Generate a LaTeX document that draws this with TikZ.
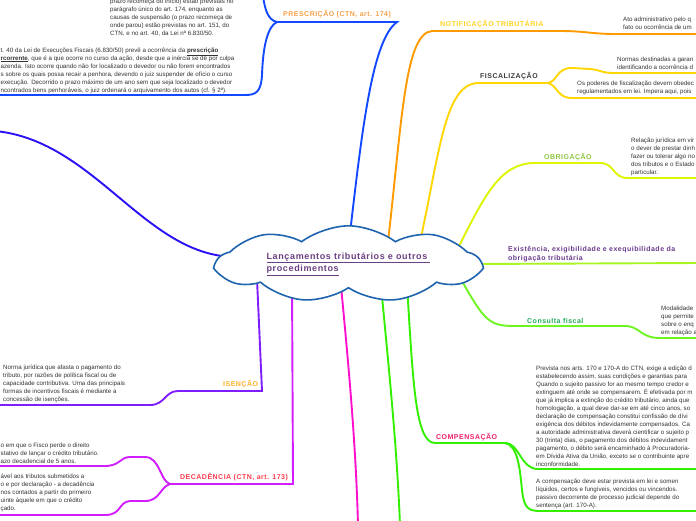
\documentclass[tikz,border=0pt]{standalone}
\usepackage{fontspec}
\setmainfont{Liberation Sans}
\newfontfamily\tagfont{Liberation Sans}[LetterSpace=7.0]
\usetikzlibrary{shapes.symbols}

\definecolor{notegray}{HTML}{333333}
\definecolor{cloudblue}{HTML}{1E63AE}
\definecolor{hubpurple}{HTML}{6B3F82}
\definecolor{prescblue}{HTML}{1248FF}
\definecolor{leftblue}{HTML}{2A10F5}
\definecolor{notiforange}{HTML}{FF9A00}
\definecolor{fiscyellow}{HTML}{FFD600}
\definecolor{obrigyellow}{HTML}{DDF500}
\definecolor{existlime}{HTML}{A8F522}
\definecolor{conslime}{HTML}{6CF522}
\definecolor{compgreen}{HTML}{33F000}
\definecolor{magline}{HTML}{FF10CC}
\definecolor{decviolet}{HTML}{D21EFF}
\definecolor{isenviolet}{HTML}{7E1EFF}
\definecolor{presctag}{HTML}{F5A04A}
\definecolor{notiftag}{HTML}{FFD21F}
\definecolor{fisctag}{HTML}{3C3C3C}
\definecolor{obrigtag}{HTML}{8DC63F}
\definecolor{existtag}{HTML}{6A3A8C}
\definecolor{constag}{HTML}{1EAA55}
\definecolor{comptag}{HTML}{EC1F6A}
\definecolor{isentag}{HTML}{FFB027}
\definecolor{dectag}{HTML}{FF3B4B}

\newcommand\notefont{\fontsize{6.2}{8}\selectfont}

\begin{document}
\begin{tikzpicture}[x=1pt,y=-1pt,
  branch/.style={line width=1.9pt,line cap=round},
  note/.style={font=\notefont,text=notegray,align=left,anchor=north west,inner sep=0pt},
  tag/.style={font=\tagfont\bfseries\fontsize{7}{9.3}\selectfont,anchor=base west,inner sep=0pt},
  hub/.style={cloud,cloud puffs=9,cloud puff arc=75,aspect=4.4,draw=cloudblue,line width=1.6pt,
    fill=white,minimum width=263pt,minimum height=60pt,inner sep=0pt,align=left,text=hubpurple,
    font=\tagfont\bfseries\fontsize{9}{12.3}\selectfont}]
\useasboundingbox (0,0) rectangle (696,520);
\clip (0,0) rectangle (696,520);

% junctions of the branches
\coordinate (c-left) at (222,256);
\coordinate (c-presc) at (349,242);
\coordinate (c-notif) at (388,242);
\coordinate (c-fisc) at (420,242);
\coordinate (c-obrig) at (458,248);
\coordinate (c-exist) at (472,264);
\coordinate (c-cons) at (462,281);
\coordinate (c-comp) at (407,285);
\coordinate (c-grn) at (381,286);
\coordinate (c-mag) at (341,286);
\coordinate (c-dec) at (292,281);
\coordinate (c-isen) at (257,279);
\coordinate (presc-r) at (397,22);
\coordinate (presc-l) at (277,22);
\coordinate (fisc-j) at (548,83);
\coordinate (comp-j) at (505,443);
\coordinate (dec-c) at (293,484);
\coordinate (dec-j) at (170,484);
\coordinate (isen-c) at (262,391);

% branches
\draw[branch,leftblue] (c-left) .. controls (140,245) and (90,140) .. (-5,131);
\draw[branch,prescblue] (c-presc) .. controls (362,130) and (372,40) .. (presc-r) -- (presc-l);
\draw[branch,prescblue] (presc-l) .. controls (268,20) and (265,10) .. (263,-4);
\draw[branch,prescblue] (presc-l) .. controls (268,26) and (263,45) .. (262,75)
  .. controls (261,92) and (256,95) .. (245,95) -- (-5,95);
\draw[branch,notiforange] (c-notif) .. controls (402,120) and (405,33) .. (432,31) -- (560,31)
  .. controls (585,31) and (592,34) .. (615,34) -- (700,34);
\draw[branch,fiscyellow] (c-fisc) .. controls (440,150) and (445,84) .. (478,83) -- (fisc-j);
\draw[branch,fiscyellow] (fisc-j) .. controls (558,81) and (556,68) .. (572,68) -- (590,69)
  .. controls (602,70) and (600,73) .. (615,73) -- (700,73);
\draw[branch,fiscyellow] (fisc-j) .. controls (558,86) and (557,98) .. (572,98) -- (700,98);
\draw[branch,obrigyellow] (c-obrig) .. controls (485,195) and (500,163) .. (535,163) -- (600,163)
  .. controls (615,163) and (612,178) .. (628,178) -- (700,178);
\draw[branch,existlime] (c-exist) -- (700,263);
\draw[branch,conslime] (c-cons) .. controls (485,322) and (490,326) .. (515,326) -- (625,326)
  .. controls (640,326) and (640,338) .. (660,338) -- (700,338);
\draw[branch,compgreen] (c-comp) .. controls (413,380) and (415,443) .. (435,443) -- (comp-j);
\draw[branch,compgreen] (comp-j) .. controls (520,443) and (520,469) .. (538,469) -- (700,469);
\draw[branch,compgreen] (comp-j) .. controls (518,445) and (520,470) .. (522,490)
  .. controls (524,508) and (528,511) .. (540,511) -- (700,511);
\draw[branch,compgreen] (c-grn) .. controls (390,380) and (397,450) .. (400,525);
\draw[branch,magline] (c-mag) .. controls (350,380) and (356,450) .. (358,525);
\draw[branch,decviolet] (c-dec) -- (dec-c) -- (dec-j);
\draw[branch,decviolet] (dec-j) .. controls (160,481) and (160,457) .. (145,457) -- (130,457)
  .. controls (120,457) and (120,466) .. (105,466) -- (-5,466);
\draw[branch,decviolet] (dec-j) .. controls (160,487) and (160,501) .. (145,501) -- (130,501)
  .. controls (118,502) and (122,515) .. (105,515) -- (-5,515);
\draw[branch,isenviolet] (c-isen) -- (isen-c) -- (178,391)
  .. controls (165,391) and (165,405) .. (150,405) -- (-5,405);

% central topic
\node[hub] (hub) at (348.5,264) {\underline{Lançamentos tributários e outros\ }\\\underline{procedimentos}};

% topic labels
\node[tag,text=presctag] (presc) at (283,16.7) {PRESCRIÇÃO (CTN, art. 174)};
\node[tag,text=notiftag] (notif) at (440,26) {NOTIFICAÇÃO TRIBUTÁRIA};
\node[tag,text=fisctag] (fisc) at (480,78.3) {FISCALIZAÇÃO};
\node[tag,text=obrigtag] (obrig) at (544,159) {OBRIGAÇÃO};
\node[tag,text=existtag,anchor=north west,align=left] (exist) at (508,244.5)
  {\strut Existência, exigibilidade e exequibilidade da\\obrigação tributária};
\node[tag,text=constag] (cons) at (527,323) {Consulta fiscal};
\node[tag,text=comptag] (comp) at (436,439) {COMPENSAÇÃO};
\node[tag,text=isentag] (isen) at (223,386) {ISENÇÃO};
\node[tag,text=dectag] (dec) at (180,479) {DECADÊNCIA (CTN, art. 173)};

% notes
\node[note] (presc-a) at (110,-1.9) {\strut prazo recomeça do início) estão previstas no\\
  parágrafo único do art. 174, enquanto as\\
  causas de suspensão (o prazo recomeça de\\
  onde parou) estão previstas no art. 151, do\\
  CTN, e no art. 40, da Lei nº 6.830/50.};
\node[note] (presc-b) at (0.5,46.4) {\strut t. 40 da Lei de Execuções Fiscais (6.830/50) prevê a ocorrência da \underline{\textbf{prescrição}}\\
  \underline{\textbf{rcorrente}}, que é a que ocorre no curso da ação, desde que a inércia se dê por culpa\\
  azenda. Isto ocorre quando não for localizado o devedor ou não forem encontrados\\
  s sobre os quais possa recair a penhora, devendo o juiz suspender de ofício o curso\\
  execução. Decorrido o prazo máximo de um ano sem que seja localizado o devedor\\
  ncontrados bens penhoráveis, o juiz ordenará o arquivamento dos autos (cf. § 2º).};
\node[note] (notif-a) at (623,15.4) {\strut Ato administrativo pelo q\\fato ou ocorrência de um};
\node[note] (fisc-a) at (617,55.4) {\strut Normas destinadas a garan\\identificando a ocorrência d};
\node[note] (fisc-b) at (577,79.4) {\strut Os poderes de fiscalização devem obedec\\regulamentados em lei. Impera aqui, pois};
\node[note] (obrig-a) at (631,136.4) {\strut Relação jurídica em vir\\o dever de prestar dinh\\fazer ou tolerar algo no\\dos tributos e o Estado\\particular.};
\node[note] (cons-a) at (661,304.4) {\strut Modalidade\\que permite\\sobre o enq\\em relação a};
\node[note] (comp-a) at (536,364.4) {\strut Prevista nos arts. 170 e 170-A do CTN, exige a edição d\\
  estabelecendo assim, suas condições e garantias para\\
  Quando o sujeito passivo for ao mesmo tempo credor e\\
  extinguem até onde se compensarem. É efetivada por m\\
  que já implica a extinção do crédito tributário, ainda que\\
  homologação, a qual deve dar-se em até cinco anos, so\\
  declaração de compensação constitui confissão de dívi\\
  exigência dos débitos indevidamente compensados. Ca\\
  a autoridade administrativa deverá cientificar o sujeito p\\
  30 (trinta) dias, o pagamento dos débitos indevidament\\
  pagamento, o débito será encaminhado à Procuradoria-\\
  em Dívida Ativa da União, exceto se o contribuinte apre\\
  inconformidade.};
\node[note] (comp-b) at (536,477.4) {\strut A compensação deve estar prevista em lei e somen\\
  líquidos, certos e fungíveis, vencidos ou vincendos.\\
  passivo decorrente de processo judicial depende do\\
  sentença (art. 170-A).};
\node[note] (isen-a) at (3,363.4) {\strut Norma jurídica que afasta o pagamento do\\
  tributo, por razões de política fiscal ou de\\
  capacidade contributiva. Uma das principais\\
  formas de incentivos fiscais é mediante a\\
  concessão de isenções.};
\node[note] (dec-a) at (0.5,441.4) {\strut o em que o Fisco perde o direito\\
  stativo de lançar o crédito tributário.\\
  azo decadencial de 5 anos.};
\node[note] (dec-b) at (0.5,472.4) {\strut ável aos tributos submetidos a\\
  o e por declaração - a decadência\\
  nos contados a partir do primeiro\\
  uinte àquele em que o crédito\\
  çado.};

\end{tikzpicture}
\end{document}
